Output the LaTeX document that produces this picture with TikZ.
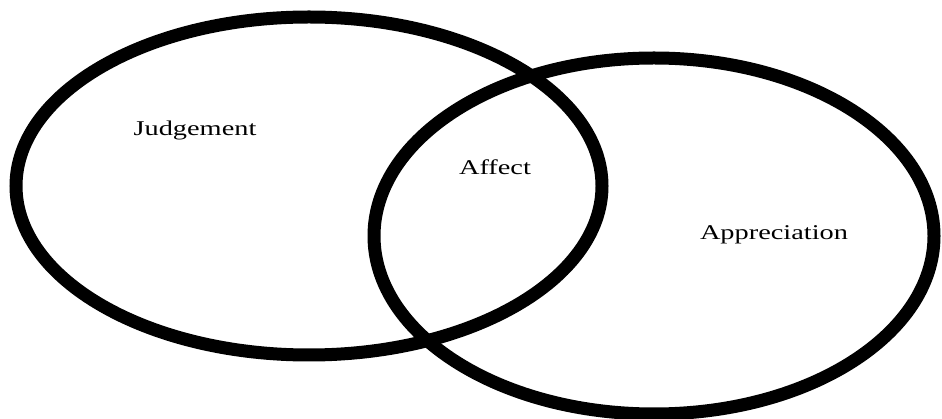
\documentclass[tikz,border=0pt]{standalone}
\usepackage{fontspec}
\setmainfont{Liberation Serif}
\usepackage{graphicx}
\usepackage{tikz}
\tikzset{
  ring/.style={line width=13pt},
  setlabel/.style={anchor=base,inner sep=0pt,font=\fontsize{21}{25}\selectfont}
}
\newcommand{\wide}[1]{\scalebox{1.35}[1]{#1}}

\begin{document}
\begin{tikzpicture}[x=1pt,y=1pt]
  \useasboundingbox (0,0) rectangle (942,-419);
  \draw[ring] (309,-186) ellipse [x radius=293pt, y radius=169pt];
  \draw[ring] (654,-236) ellipse [x radius=280pt, y radius=178pt];
  \node[setlabel] (judgement) at (195,-136) {\wide{Judgement}};
  \node[setlabel] (affect) at (495,-175) {\wide{Affect}};
  \node[setlabel] (appreciation) at (774,-240) {\wide{Appreciation}};
\end{tikzpicture}
\end{document}
